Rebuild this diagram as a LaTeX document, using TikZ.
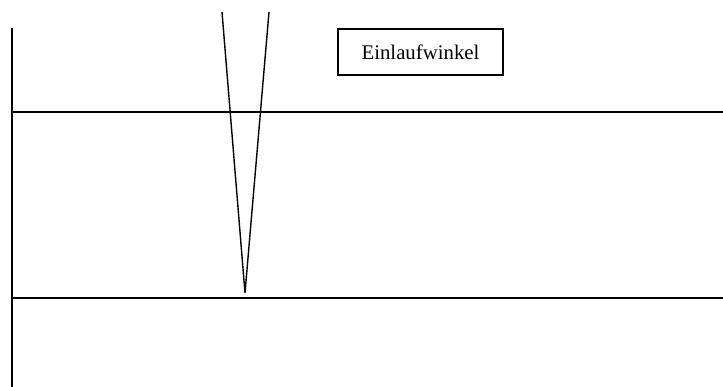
\documentclass[tikz,border=0pt]{standalone}
\usepackage{fontspec}
\setmainfont{Liberation Serif}
\usetikzlibrary{positioning}

\begin{document}
\begin{tikzpicture}[x=1pt,y=-1pt,line width=1.6pt]

\useasboundingbox (0,0) rectangle (723,387);

% Wall
\coordinate (W1) at (12,28);
\coordinate (W2) at (12,387);
\draw (W1) -- (W2);

% Upper and lower edge
\coordinate (U1) at (12,112);
\coordinate (U2) at (723,112);
\coordinate (L1) at (12,298);
\coordinate (L2) at (723,298);
\draw (U1) -- (U2);
\draw (L1) -- (L2);

% Angle
\coordinate (T) at (245,293);
\coordinate (A) at (222,12);
\coordinate (B) at (269,12);
\draw[line width=1.4pt] (A) -- (T) -- (B);

% Label
\node[draw,line width=1.2pt,minimum width=165,minimum height=46,font=\fontsize{20.8}{24}\selectfont]
  (lbl) at (420.5,52) {Einlaufwinkel};

\end{tikzpicture}
\end{document}
